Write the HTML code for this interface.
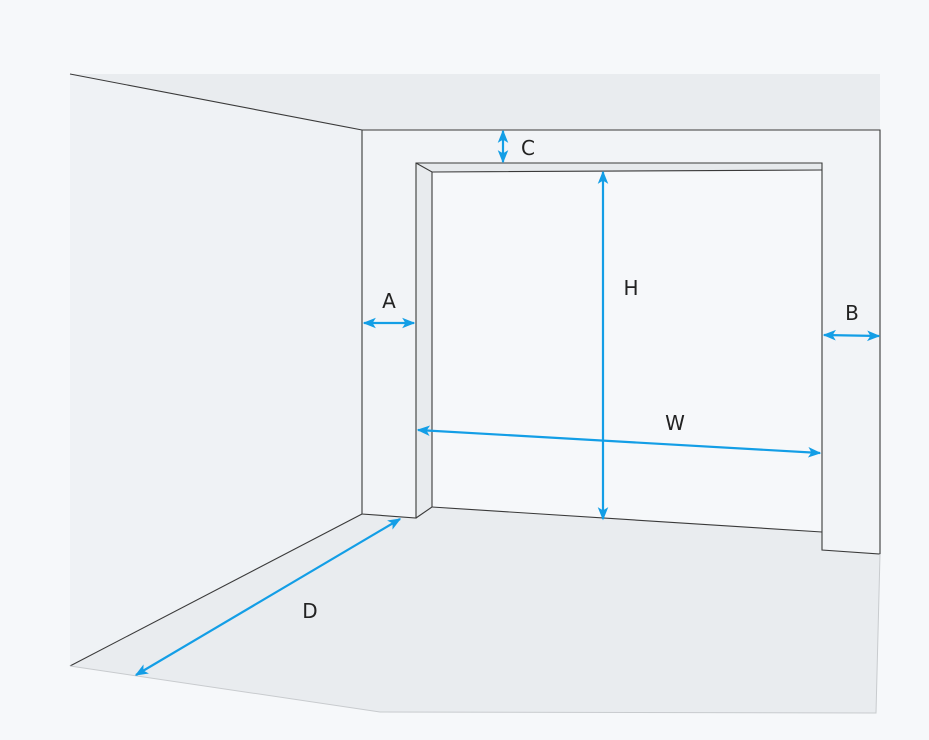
<!DOCTYPE html>
<html><head><style>html,body{margin:0;padding:0;background:#f6f8fa;width:929px;height:740px;overflow:hidden}</style></head>
<body>
<svg width="929" height="740" viewBox="0 0 929 740" xmlns="http://www.w3.org/2000/svg">
<defs>
<marker id="ah" viewBox="0 0 10 10" refX="9" refY="5" markerWidth="6" markerHeight="6" orient="auto-start-reverse" markerUnits="strokeWidth">
<path d="M0,1 L10,5 L0,9 L2.5,5 z" fill="#139ee6"/>
</marker>
</defs>
<rect width="929" height="740" fill="#f6f8fa"/>
<polygon points="70,74 880,74 880,130 362,130" fill="#e9ecef"/>
<polygon points="70,74 362,130 362,514 70,666" fill="#eff2f5"/>
<polygon points="70,666 362,514 416,518 432,507 822,532 822,550 880,554 876,713 380,712" fill="#e9ecef"/>
<polygon points="362,130 880,130 880,554 822,550 822,532 432,507 416,518 362,514" fill="#f2f4f7"/>
<polygon points="432,172 822,170 822,532 432,507" fill="#f6f8fa"/>
<polygon points="416,163 822,163 822,170 432,172" fill="#e6e9ec"/>
<polygon points="416,163 432,172 432,507 416,518" fill="#e8ebee"/>
<g fill="none" stroke="#3a3a3a" stroke-width="1.1">
<polyline points="70,74 362,130 880,130 880,554 822,550 822,163 416,163 416,518 362,514 362,130"/>
<line x1="362" y1="514" x2="70" y2="666"/>
<polyline points="416,163 432,172 822,170"/>
<polyline points="432,172 432,507 416,518"/>
<line x1="432" y1="507" x2="822" y2="532"/>
</g>
<polyline points="70,666 380,712 876,713 880,554" fill="none" stroke="#c8cbce" stroke-width="1"/>
<g stroke="#139ee6" stroke-width="2.2" fill="none">
<line x1="364" y1="323" x2="414" y2="323" marker-start="url(#ah)" marker-end="url(#ah)"/>
<line x1="824" y1="335" x2="879" y2="336" marker-start="url(#ah)" marker-end="url(#ah)"/>
<line x1="503" y1="131" x2="503" y2="162" marker-start="url(#ah)" marker-end="url(#ah)"/>
<line x1="603" y1="172" x2="603" y2="519" marker-start="url(#ah)" marker-end="url(#ah)"/>
<line x1="418" y1="430" x2="820" y2="453" marker-start="url(#ah)" marker-end="url(#ah)"/>
<line x1="136" y1="675" x2="400" y2="519" marker-start="url(#ah)" marker-end="url(#ah)"/>
</g>
<g font-family="DejaVu Sans, Liberation Sans, sans-serif" font-size="20" fill="#222" text-anchor="middle">
<text x="389" y="308">A</text>
<text x="852" y="320">B</text>
<text x="528" y="155">C</text>
<text x="631" y="295">H</text>
<text x="675" y="430">W</text>
<text x="310" y="618">D</text>
</g>
</svg>
</body></html>
